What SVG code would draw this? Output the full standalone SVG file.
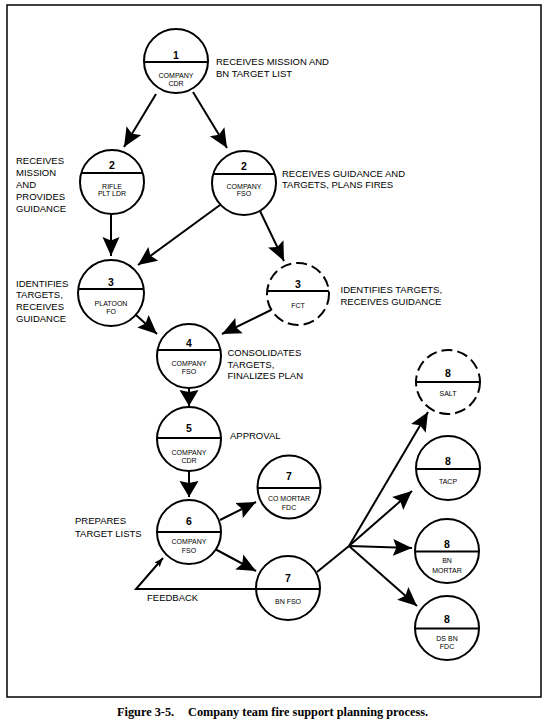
<svg xmlns="http://www.w3.org/2000/svg" width="550" height="725" viewBox="0 0 550 725">
<style>
.bg{fill:#fff}
.frame{fill:none;stroke:#000;stroke-width:1.5}
.c{fill:#fff;stroke:#000;stroke-width:2}
.d{stroke-dasharray:11 5}
.div{stroke:#000;stroke-width:1.8}
.e{fill:none;stroke:#000;stroke-width:2}
.t{font-family:"Liberation Sans",Arial,sans-serif;font-size:9.5px;fill:#000}
.n{font-family:"Liberation Sans",Arial,sans-serif;font-size:10.5px;font-weight:bold;text-anchor:middle;fill:#000}
.s{font-family:"Liberation Sans",Arial,sans-serif;font-size:7px;text-anchor:middle;fill:#000}
.cap{font-family:"Liberation Serif","Times New Roman",serif;font-size:12.3px;font-weight:bold;fill:#000}
</style>
<defs>
<marker id="ah" markerUnits="userSpaceOnUse" markerWidth="20" markerHeight="18" refX="19" refY="9" orient="auto">
<path d="M0,0.5 L19,9 L0,17.5 L3.5,9 z" fill="#000"/>
</marker>
<marker id="ahb" markerUnits="userSpaceOnUse" markerWidth="17" markerHeight="20" refX="16" refY="10" orient="auto">
<path d="M0,0.5 L16,10 L0,19.5 L2,10 z" fill="#000"/>
</marker>
<marker id="ahs" markerUnits="userSpaceOnUse" markerWidth="10" markerHeight="8" refX="9" refY="4" orient="auto">
<path d="M0,0.5 L9,4 L0,7.5 L1.5,4 z" fill="#000"/>
</marker>
</defs>
<rect class="bg" x="0" y="0" width="550" height="725"/>
<rect class="frame" x="7" y="5" width="534" height="692"/>

<g id="connectors">
<line class="e" x1="156" y1="94" x2="124" y2="147" marker-end="url(#ah)"/>
<line class="e" x1="193" y1="92" x2="227" y2="148" marker-end="url(#ah)"/>
<line class="e" x1="111" y1="214" x2="111" y2="256" marker-end="url(#ah)"/>
<line class="e" x1="220" y1="205" x2="138" y2="265" marker-end="url(#ah)"/>
<line class="e" x1="260" y1="211" x2="284" y2="261" marker-end="url(#ah)"/>
<line class="e" x1="136" y1="315" x2="157" y2="334" marker-end="url(#ah)"/>
<line class="e" x1="271" y1="310" x2="222" y2="334" marker-end="url(#ah)"/>
<line class="e" x1="189" y1="387" x2="189" y2="406" marker-end="url(#ahb)"/>
<line class="e" x1="189" y1="471" x2="189" y2="497" marker-end="url(#ahb)"/>
<line class="e" x1="220" y1="520" x2="256" y2="502" marker-end="url(#ah)"/>
<line class="e" x1="215" y1="549" x2="256" y2="571" marker-end="url(#ah)"/>
<polyline class="e" points="256,589 136,589 163,558" marker-end="url(#ahs)"/>
<line class="e" x1="317" y1="572" x2="349" y2="546"/>
<line class="e" x1="349" y1="546" x2="428" y2="412" marker-end="url(#ah)"/>
<line class="e" x1="349" y1="546" x2="412" y2="491" marker-end="url(#ah)"/>
<line class="e" x1="349" y1="546" x2="412" y2="548" marker-end="url(#ah)"/>
<line class="e" x1="349" y1="546" x2="417" y2="606" marker-end="url(#ah)"/>
<text class="t" x="147" y="601">FEEDBACK</text>
</g>

<g id="node1">
<circle class="c" cx="176" cy="61" r="32"/>
<line class="div" x1="144.1" y1="62" x2="207.9" y2="62"/>
<text class="n" x="176" y="59">1</text>
<text class="s" x="176" y="77.5">COMPANY</text>
<text class="s" x="176" y="85.5">CDR</text>
<text class="t" x="216" y="65">RECEIVES  MISSION AND</text>
<text class="t" x="216" y="76.6">BN TARGET LIST</text>
</g>

<g id="node2a">
<circle class="c" cx="112" cy="182" r="32"/>
<line class="div" x1="81.3" y1="173" x2="142.7" y2="173"/>
<text class="n" x="112" y="169">2</text>
<text class="s" x="112" y="188.5">RIFLE</text>
<text class="s" x="112" y="196">PLT LDR</text>
<text class="t" x="16" y="164">RECEIVES</text>
<text class="t" x="16" y="176">MISSION</text>
<text class="t" x="16" y="188">AND</text>
<text class="t" x="16" y="200">PROVIDES</text>
<text class="t" x="16" y="211.6">GUIDANCE</text>
</g>

<g id="node2b">
<circle class="c" cx="244" cy="183" r="32"/>
<line class="div" x1="213.3" y1="174" x2="274.7" y2="174"/>
<text class="n" x="244" y="169.5">2</text>
<text class="s" x="244" y="188.5">COMPANY</text>
<text class="s" x="244" y="196">FSO</text>
<text class="t" x="282" y="176.6">RECEIVES GUIDANCE AND</text>
<text class="t" x="282" y="188.3">TARGETS, PLANS FIRES</text>
</g>

<g id="node3a">
<circle class="c" cx="111" cy="293" r="33"/>
<line class="div" x1="78.2" y1="289" x2="143.8" y2="289"/>
<text class="n" x="111" y="286">3</text>
<text class="s" x="111" y="305.5">PLATOON</text>
<text class="s" x="111" y="313.5">FO</text>
<text class="t" x="16" y="286.6">IDENTIFIES</text>
<text class="t" x="16" y="298.3">TARGETS,</text>
<text class="t" x="16" y="310">RECEIVES</text>
<text class="t" x="16" y="321.6">GUIDANCE</text>
</g>

<g id="node3b">
<circle class="c d" cx="298" cy="294" r="31"/>
<line class="div" x1="267.1" y1="291" x2="328.9" y2="291"/>
<text class="n" x="298" y="288">3</text>
<text class="s" x="298" y="307.5">FCT</text>
<text class="t" x="340.5" y="293.3">IDENTIFIES  TARGETS,</text>
<text class="t" x="340.5" y="305">RECEIVES GUIDANCE</text>
</g>

<g id="node4">
<circle class="c" cx="189" cy="356" r="32"/>
<line class="div" x1="157.4" y1="350" x2="220.6" y2="350"/>
<text class="n" x="189" y="346.5">4</text>
<text class="s" x="189" y="365.5">COMPANY</text>
<text class="s" x="189" y="374">FSO</text>
<text class="t" x="227.5" y="356">CONSOLIDATES</text>
<text class="t" x="227.5" y="367.6">TARGETS,</text>
<text class="t" x="227.5" y="379.3">FINALIZES PLAN</text>
</g>

<g id="node5">
<circle class="c" cx="189" cy="439" r="32"/>
<line class="div" x1="157" y1="438" x2="221" y2="438"/>
<text class="n" x="189" y="431.5">5</text>
<text class="s" x="189" y="454.5">COMPANY</text>
<text class="s" x="189" y="463">CDR</text>
<text class="t" x="230" y="439.3">APPROVAL</text>
</g>

<g id="node6">
<circle class="c" cx="189" cy="532" r="32"/>
<line class="div" x1="157" y1="532" x2="221" y2="532"/>
<text class="n" x="189" y="524.5">6</text>
<text class="s" x="189" y="544">COMPANY</text>
<text class="s" x="189" y="553">FSO</text>
<text class="t" x="75" y="524">PREPARES</text>
<text class="t" x="75" y="536.6">TARGET LISTS</text>
</g>

<g id="node7a">
<circle class="c" cx="289" cy="487" r="31.5"/>
<line class="div" x1="257.5" y1="488" x2="320.5" y2="488"/>
<text class="n" x="289" y="480.3">7</text>
<text class="s" x="289" y="501">CO MORTAR</text>
<text class="s" x="289" y="510">FDC</text>
</g>

<g id="node7b">
<circle class="c" cx="288" cy="588" r="32"/>
<line class="div" x1="256" y1="589" x2="320" y2="589"/>
<text class="n" x="288" y="582">7</text>
<text class="s" x="288" y="603.5">BN FSO</text>
</g>

<g id="node8salt">
<circle class="c d" cx="448" cy="382" r="32"/>
<line class="div" x1="416" y1="382" x2="480" y2="382"/>
<text class="n" x="448" y="376.5">8</text>
<text class="s" x="448" y="396">SALT</text>
</g>

<g id="node8tacp">
<circle class="c" cx="448" cy="468" r="32"/>
<line class="div" x1="416" y1="469" x2="480" y2="469"/>
<text class="n" x="448" y="465.3">8</text>
<text class="s" x="448" y="484">TACP</text>
</g>

<g id="node8bnmortar">
<circle class="c" cx="447" cy="551" r="32"/>
<line class="div" x1="415" y1="551.5" x2="479" y2="551.5"/>
<text class="n" x="447" y="547.5">8</text>
<text class="s" x="447" y="563">BN</text>
<text class="s" x="447" y="572.5">MORTAR</text>
</g>

<g id="node8dsbn">
<circle class="c" cx="447" cy="628" r="32"/>
<line class="div" x1="415" y1="628.5" x2="479" y2="628.5"/>
<text class="n" x="447" y="623">8</text>
<text class="s" x="447" y="640.5">DS BN</text>
<text class="s" x="447" y="649">FDC</text>
</g>

<text class="cap" x="117" y="716">Figure 3-5.<tspan x="188">Company team fire support planning process.</tspan></text>
</svg>
